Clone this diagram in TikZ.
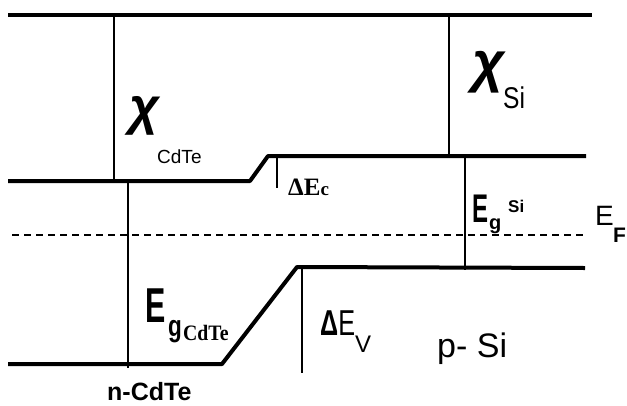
\documentclass[tikz,border=0pt]{standalone}
\usepackage{fontspec}
\setmainfont{Liberation Sans}
\newfontfamily\serifb{Liberation Serif}
\begin{document}
\begin{tikzpicture}[x=1pt,y=-1pt,
  band/.style={line width=4pt},
  vline/.style={line width=2pt},
  fermi/.style={line width=1.8pt,dash pattern=on 7pt off 5pt},
  lab/.style={inner sep=0pt,anchor=base west}]
\path[use as bounding box] (0,0) rectangle (627,405);
% coordinates
\coordinate (vacL) at (8,15);
\coordinate (vacR) at (592,15);
\coordinate (chiCtop) at (114,15);
\coordinate (chiCbot) at (114,181);
\coordinate (chiStop) at (449,15);
\coordinate (chiSbot) at (449,156);
\coordinate (ecL) at (8,181);
\coordinate (ecK1) at (250,181);
\coordinate (ecK2) at (268,156);
\coordinate (ecR) at (586,156);
\coordinate (dEcT) at (277,156);
\coordinate (dEcB) at (277,188);
\coordinate (egStop) at (465,156);
\coordinate (egSbot) at (465,270);
\coordinate (efL) at (12,235);
\coordinate (efR) at (587,235);
\coordinate (evL) at (8,364);
\coordinate (evK1) at (222,364);
\coordinate (evK2) at (297,267);
\coordinate (evR) at (585,268);
\coordinate (egCtop) at (128,181);
\coordinate (egCbot) at (128,368);
\coordinate (dEvT) at (302,268);
\coordinate (dEvB) at (302,373);
% lines
\draw[band] (vacL) -- (vacR);
\draw[vline] (chiCtop) -- (chiCbot);
\draw[vline] (chiStop) -- (chiSbot);
\draw[band,line join=round] (ecL) -- (ecK1) -- (ecK2) -- (ecR);
\draw[line width=2.5pt] (dEcT) -- (dEcB);
\draw[line width=2.5pt] (egStop) -- (egSbot);
\draw[fermi] (efL) -- (efR);
\draw[band,line join=round] (evL) -- (evK1) -- (evK2) -- (evR);
\draw[vline] (egCtop) -- (egCbot);
\draw[vline] (dEvT) -- (dEvB);
% labels
\node[lab,font=\fontsize{52}{52}\selectfont\bfseries\itshape] (chiC) at (129,124) {χ};
\node[lab,font=\fontsize{19}{19}\selectfont] (chiCsub) at (157,163) {CdTe};
\node[lab,font=\fontsize{56}{56}\selectfont\bfseries\itshape] (chiS) at (472,81) {χ};
\node[lab,font=\fontsize{30}{30}\selectfont,xscale=0.82] (chiSsub) at (503,108) {Si};
\node[lab,font=\serifb\bfseries\fontsize{25}{25}\selectfont] (dEc) at (288,195) {ΔE{\fontsize{19}{19}\selectfont c}};
\node[lab,font=\fontsize{40}{40}\selectfont\bfseries,xscale=0.6] (EgS) at (472,222) {E};
\node[lab,font=\fontsize{20}{20}\selectfont\bfseries] (EgSg) at (489,229) {g};
\node[lab,font=\fontsize{17}{17}\selectfont\bfseries] (EgSsi) at (508,212) {Si};
\node[lab,font=\fontsize{28}{28}\selectfont] (EF) at (595,225) {E};
\node[lab,font=\fontsize{21}{21}\selectfont\bfseries] (EFs) at (613,242) {F};
\node[lab,font=\fontsize{49}{49}\selectfont\bfseries,xscale=0.62] (EgC) at (145,322) {E};
\node[lab,font=\fontsize{30}{30}\selectfont\bfseries,xscale=0.75] (EgCg) at (168,336) {g};
\node[lab,font=\serifb\bfseries\fontsize{22}{22}\selectfont,xscale=0.9] (EgCsub) at (183,340) {CdTe};
\node[lab,font=\fontsize{36}{36}\selectfont,xscale=0.7] (dEv) at (320,335) {{\bfseries Δ}E};
\node[lab,font=\fontsize{24}{24}\selectfont] (dEvV) at (355,352) {V};
\node[lab,font=\fontsize{34}{34}\selectfont] (pSi) at (437,357) {p- Si};
\node[lab,font=\fontsize{25}{25}\selectfont\bfseries] (nCdTe) at (107,400) {n-CdTe};
\end{tikzpicture}
\end{document}
